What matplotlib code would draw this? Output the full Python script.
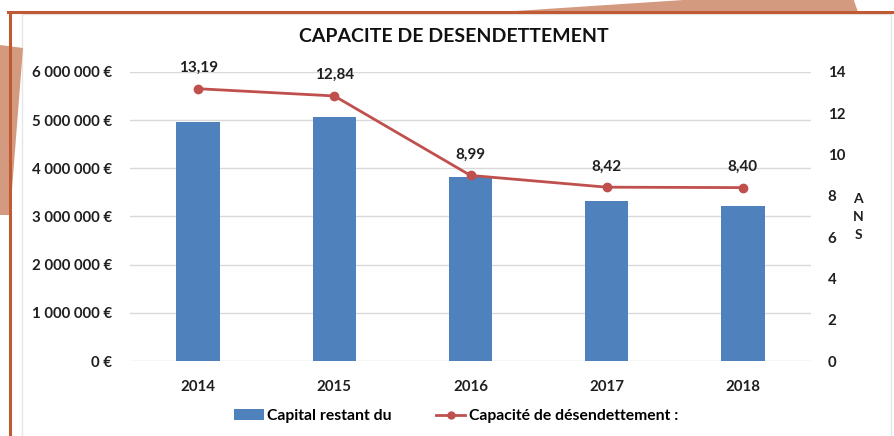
import matplotlib
matplotlib.use("Agg")
import matplotlib.pyplot as plt
from matplotlib.patches import Polygon, Rectangle
from matplotlib.lines import Line2D
from matplotlib.ticker import FuncFormatter, MultipleLocator

years = ["2014", "2015", "2016", "2017", "2018"]
capital = [4960000, 5060000, 3810000, 3330000, 3210000]
capacite = [13.19, 12.84, 8.99, 8.42, 8.40]
capacite_labels = ["13,19", "12,84", "8,99", "8,42", "8,40"]

title = "CAPACITE DE DESENDETTEMENT"
bar_label = "Capital restant du"
line_label = "Capacité de désendettement :"

plt.rcParams['font.family'] = ['Lato', 'DejaVu Sans']
plt.rcParams['font.weight'] = 'bold'

W, H = 894, 436
fig = plt.figure(figsize=(W / 100, H / 100), dpi=100)
fig.patch.set_facecolor("white")

def fx(x):
    return x / W

def fy(y):
    return 1 - y / H

# decorative background shapes
deco = "#D49A80"
edge = "#C05A35"
fig.patches.append(Polygon([(fx(500), fy(12)), (fx(760), fy(-5)), (fx(852), fy(-5)), (fx(858), fy(12))],
                           closed=True, transform=fig.transFigure, facecolor=deco, edgecolor="none", zorder=-3))
# chart frame (light grey)
fig.patches.append(Rectangle((fx(22), fy(440)), (891 - 22) / W, (440 - 14) / H,
                             transform=fig.transFigure, facecolor="white", edgecolor="#E6E6E6", lw=1, zorder=-2))
fig.patches.append(Polygon([(fx(0), fy(45)), (fx(23), fy(48)), (fx(10), fy(215)), (fx(0), fy(215))],
                           closed=True, transform=fig.transFigure, facecolor=deco, edgecolor="none", zorder=-1.5))
# orange border lines
fig.lines.append(Line2D([fx(8), fx(894)], [fy(12), fy(12)], transform=fig.transFigure, color=edge, lw=2.2, zorder=-1))
fig.lines.append(Line2D([fx(10), fx(10)], [fy(12), fy(436)], transform=fig.transFigure, color=edge, lw=2.2, zorder=-1))

ax = fig.add_axes([fx(130), fy(361), fx(811 - 130), (361 - 72) / H])
ax.set_facecolor("none")
x = list(range(len(years)))
ax.bar(x, capital, width=0.32, color="#4F81BD", zorder=2)
ax.set_xlim(-0.5, len(years) - 0.5)
ax.set_ylim(0, 6000000)
ax.yaxis.set_major_locator(MultipleLocator(1000000))

def euro(v, pos):
    s = f"{int(round(v)):,}".replace(",", " ")
    return f"{s} €"

ax.yaxis.set_major_formatter(FuncFormatter(euro))
ax.set_xticks(x)
ax.set_xticklabels(years)
ax.grid(axis="y", color="#D9D9D9", lw=1, zorder=0)
ax.set_axisbelow(True)
for s in ax.spines.values():
    s.set_visible(False)
ax.tick_params(axis="y", length=0, pad=13, labelsize=10.8)
ax.tick_params(axis="x", length=0, pad=14, labelsize=10.8)

ax2 = ax.twinx()
ax2.plot(x, capacite, color="#C0504D", lw=2, marker="o", markersize=6, zorder=3)
ax2.set_ylim(0, 14)
ax2.yaxis.set_major_locator(MultipleLocator(2))
for s in ax2.spines.values():
    s.set_visible(False)
ax2.tick_params(axis="y", length=0, pad=12, labelsize=10.8)
for xi, v, lab in zip(x, capacite, capacite_labels):
    ax2.annotate(lab, (xi, v), xytext=(0, 10), textcoords="offset points",
                 ha="center", va="bottom", fontsize=11, fontweight="bold", color="#1f1f1f")

fig.text(fx(858), fy(217), "A\nN\nS", ha="center", va="center", fontsize=10, fontweight="bold",
         linespacing=1.6, color="#1f1f1f")

fig.text(fx(454), fy(36), title, ha="center", va="center", fontsize=14, fontweight="bold", color="#111111")

handles = [Rectangle((0, 0), 1, 1, facecolor="#4F81BD"),
           Line2D([0], [0], color="#C0504D", lw=2, marker="o", markersize=5)]
fig.legend(handles, [bar_label, line_label], loc="center", bbox_to_anchor=(fx(456), fy(416)),
           ncol=2, frameon=False, fontsize=11.3, handlelength=1.9, handleheight=0.7,
           handletextpad=0.2, columnspacing=2.8)

for t in ax.get_yticklabels() + ax.get_xticklabels() + ax2.get_yticklabels():
    t.set_color("#1f1f1f")
    t.set_fontweight("bold")

fig.savefig("out.png", dpi=100, facecolor="white")
